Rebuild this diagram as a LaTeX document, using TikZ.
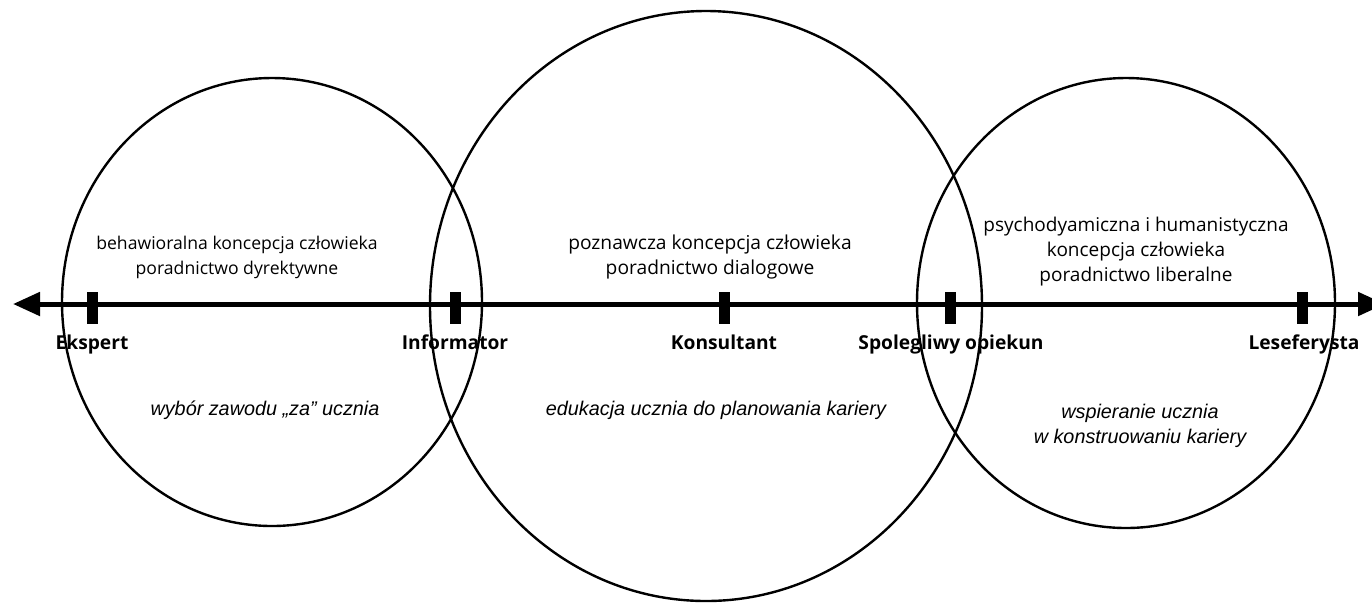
\documentclass[tikz,border=0pt]{standalone}
\usepackage{fontspec}
\setmainfont{Open Sans}
\newfontfamily\aimfont{Liberation Sans}
\usetikzlibrary{arrows.meta,positioning}

\begin{document}
\begin{tikzpicture}[x=0.5pt,y=-0.5pt,
    ring/.style={line width=1.2pt},
    tickbar/.style={fill=black, minimum width=5.5pt, minimum height=16pt, inner sep=0pt},
    role/.style={anchor=base, font=\bfseries\fontsize{9.6}{11}\selectfont},
    idea/.style={align=center, font=\fontsize{#1}{12.5}\selectfont},
    aim/.style={align=center, font=\aimfont\itshape\fontsize{9.9}{12.5}\selectfont}]
    \useasboundingbox (0,0) rectangle (1372,602);

    % three circles
    \draw[ring] (272,302) ellipse [x radius=210, y radius=224];
    \draw[ring] (706,306) ellipse [x radius=276, y radius=295];
    \draw[ring] (1126,303) ellipse [x radius=209, y radius=225];

    % axis
    \coordinate (axL) at (13,304);
    \coordinate (axR) at (1385,304);
    \draw[line width=2.5pt, {Triangle[length=13.5pt,width=11.5pt]}-{Triangle[length=13.5pt,width=11.5pt]}] (axL) -- (axR);

    \node[tickbar] (ekspert) at (92,308) {};
    \node[tickbar] (informator) at (455,308) {};
    \node[tickbar] (konsultant) at (724,308) {};
    \node[tickbar] (opiekun) at (950,308) {};
    \node[tickbar] (lesefer) at (1302,308) {};

    \node[role] (ekspertL) at (92,349) {Ekspert};
    \node[role] (informatorL) at (455,349) {Informator};
    \node[role] (konsultantL) at (724,349) {Konsultant};
    \node[role] (opiekunL) at (951,349) {Spolegliwy opiekun};
    \node[role] (leseferL) at (1304,349) {Leseferysta};

    \node[idea=8.8] (behaw) at (237,257) {behawioralna koncepcja człowieka\\poradnictwo dyrektywne};
    \node[idea=9.6] (poznaw) at (710,257) {poznawcza koncepcja człowieka\\poradnictwo dialogowe};
    \node[idea=9.5] (psycho) at (1136,252) {psychodyamiczna i humanistyczna\\koncepcja człowieka\\poradnictwo liberalne};

    \node[aim] (wybor) at (265,410) {wybór zawodu „za” ucznia};
    \node[aim] (eduk) at (716,410) {edukacja ucznia do planowania kariery};
    \node[aim] (wspier) at (1140,426) {wspieranie ucznia\\w konstruowaniu kariery};
\end{tikzpicture}
\end{document}
